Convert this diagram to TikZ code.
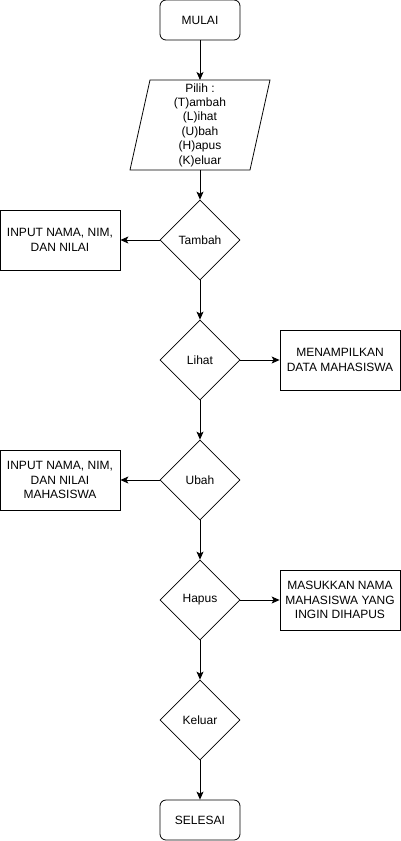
\documentclass[tikz,border=0pt]{standalone}
\usepackage{fontspec}
\setmainfont{Liberation Sans}
\usetikzlibrary{arrows.meta,shapes.geometric}
\begin{document}
\begin{tikzpicture}[x=1pt,y=-1pt,
  every node/.style={font=\fontsize{12}{14.4}\selectfont, align=center, inner sep=0pt},
  term/.style={draw, rounded corners=6pt, minimum width=80pt, minimum height=40pt, line width=0.8pt},
  proc/.style={draw, minimum width=120pt, minimum height=60pt, line width=0.8pt},
  dec/.style={draw, diamond, minimum width=80pt, minimum height=80pt, aspect=1, line width=0.8pt},
  conn/.style={line width=0.8pt, -{Stealth[length=8pt,width=7pt,inset=2pt]}}]
\useasboundingbox (0,0) rectangle (401,841);
\node[term] (mulai) at (200,20) {MULAI};
\draw[line width=0.8pt] (150,80) -- (270,80) -- (250,170) -- (130,170) -- cycle;
\node (pilih) at (200,125) {Pilih :\\(T)ambah\\(L)ihat\\(U)bah\\(H)apus\\(K)eluar};
\coordinate (pilihT) at (200,80);
\coordinate (pilihB) at (200,170);
\node[dec] (tambah) at (200,240) {Tambah};
\node[proc] (in1) at (60,240) {INPUT NAMA, NIM,\\DAN NILAI};
\node[dec] (lihat) at (200,360) {Lihat};
\node[proc] (tampil) at (340,360) {MENAMPILKAN\\DATA MAHASISWA};
\node[dec] (ubah) at (200,480) {Ubah};
\node[proc] (in2) at (60,480) {INPUT NAMA, NIM,\\DAN NILAI\\MAHASISWA};
\node[dec] (hapus) at (200,600) {Hapus};
\node[proc] (masuk) at (340,600) {MASUKKAN NAMA\\MAHASISWA YANG\\INGIN DIHAPUS};
\node[dec] (keluar) at (200,720) {Keluar};
\node[term] (selesai) at (200,820) {SELESAI};
\draw[conn] (mulai.south) -- (pilihT);
\draw[conn] (pilihB) -- (tambah.north);
\draw[conn] (tambah.west) -- (in1.east);
\draw[conn] (tambah.south) -- (lihat.north);
\draw[conn] (lihat.east) -- (tampil.west);
\draw[conn] (lihat.south) -- (ubah.north);
\draw[conn] (ubah.west) -- (in2.east);
\draw[conn] (ubah.south) -- (hapus.north);
\draw[conn] (hapus.east) -- (masuk.west);
\draw[conn] (hapus.south) -- (keluar.north);
\draw[conn] (keluar.south) -- (selesai.north);
\end{tikzpicture}
\end{document}
